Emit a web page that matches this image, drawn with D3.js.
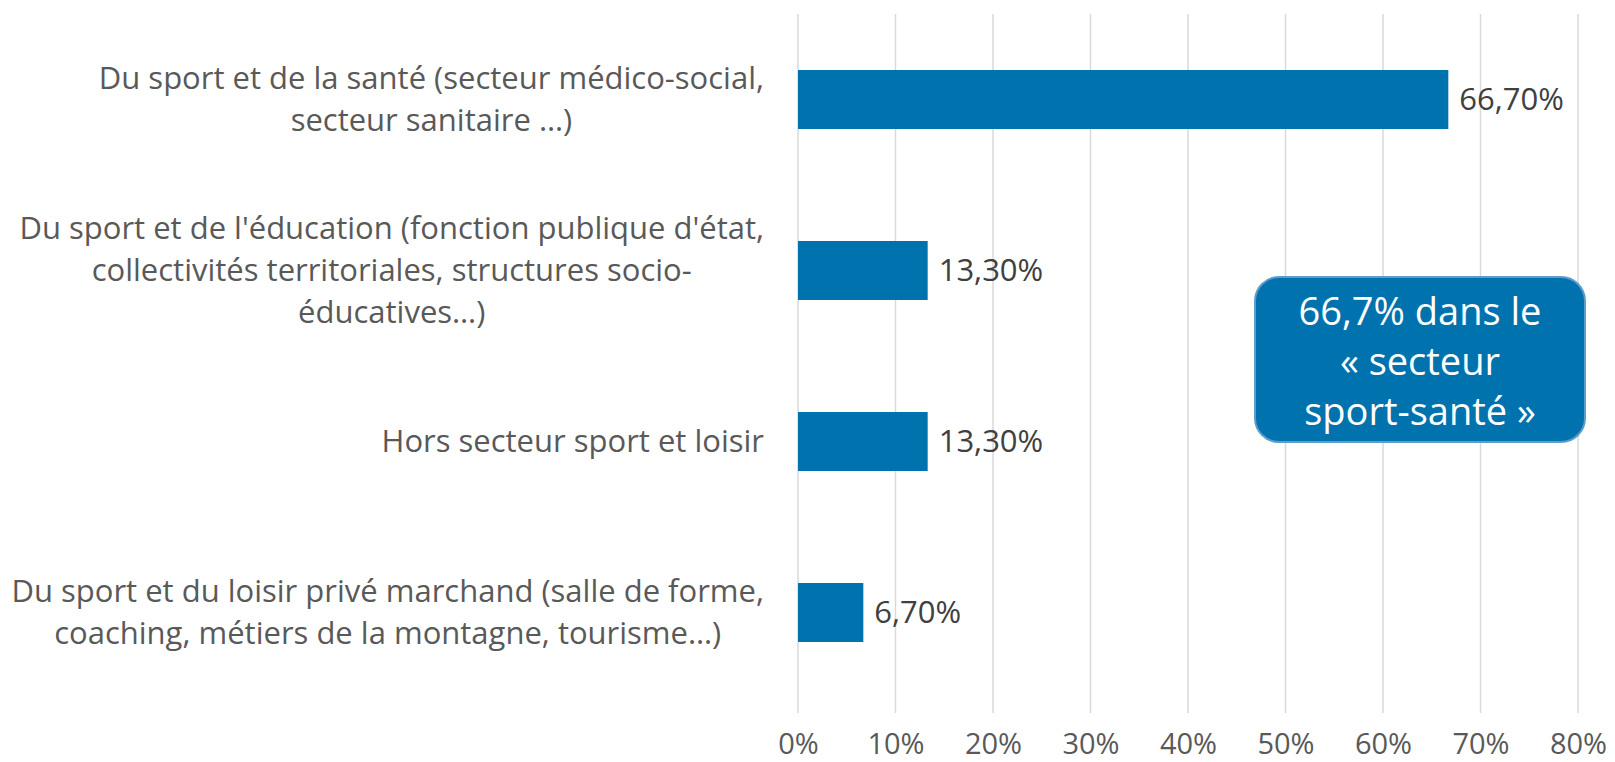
<!DOCTYPE html>
<html>
<head>
<meta charset="utf-8">
<script src="https://cdn.jsdelivr.net/npm/d3@7"></script>
<style>
  body { margin: 0; background: #fff; overflow: hidden; }
  svg { display: block; }
  svg text { font-family: "Open Sans", "Noto Sans", sans-serif; }
</style>
</head>
<body>
<div id="container"></div>
<script>
// data
const categories = [
  ["Du sport et de la santé (secteur médico-social,", "secteur sanitaire …)"],
  ["Du sport et de l'éducation (fonction publique d'état,", "collectivités territoriales, structures socio-", "éducatives…)"],
  ["Hors secteur sport et loisir"],
  ["Du sport et du loisir privé marchand (salle de forme,", "coaching, métiers de la montagne, tourisme…)"]
];
const values = [0.667, 0.133, 0.133, 0.067];
const valueLabels = ["66,70%", "13,30%", "13,30%", "6,70%"];
const ticks = [0, 0.1, 0.2, 0.3, 0.4, 0.5, 0.6, 0.7, 0.8];
const calloutLines = ["66,7% dans le", "« secteur", "sport-santé »"];

const w = 1615, h = 762;
const plotLeft = 798, plotRight = 1578, plotTop = 14, plotBottom = 698;
const blue = "#0073ae", grey = "#595959";

const xScale = d3.scaleLinear().domain([0, 0.8]).range([plotLeft, plotRight]);
const yScale = d3.scaleBand().domain(d3.range(categories.length)).range([plotTop, plotBottom]).paddingInner(0.655).paddingOuter(0.3275);

const svg = d3.select("#container").append("svg")
  .attr("width", w).attr("height", h);

// gridlines
svg.selectAll("line.grid")
  .data(ticks)
  .enter().append("line")
  .attr("class", "grid")
  .attr("x1", d => xScale(d)).attr("x2", d => xScale(d))
  .attr("y1", plotTop).attr("y2", plotBottom + 15)
  .attr("stroke", "#d9d9d9").attr("stroke-width", 1.5);

// x axis
const xAxis = d3.axisBottom(xScale).tickValues(ticks).tickSize(0).tickPadding(0)
  .tickFormat(d => Math.round(d * 100) + "%");
const gx = svg.append("g").attr("transform", "translate(0," + 744 + ")").call(xAxis);
gx.select(".domain").remove();
gx.selectAll("text").attr("fill", grey).attr("font-size", 29)
  .attr("font-family", "'Open Sans', sans-serif").attr("dy", "0.35em");

// bars
svg.selectAll("rect.bar")
  .data(values)
  .enter().append("rect")
  .attr("class", "bar")
  .attr("x", xScale(0))
  .attr("y", (d, i) => yScale(i))
  .attr("width", d => xScale(d) - xScale(0))
  .attr("height", yScale.bandwidth())
  .attr("fill", blue);

// value labels
svg.selectAll("text.val")
  .data(values)
  .enter().append("text")
  .attr("class", "val")
  .attr("x", d => xScale(d) + 11)
  .attr("y", (d, i) => yScale(i) + yScale.bandwidth() / 2)
  .attr("dy", "0.35em")
  .attr("font-size", 31)
  .attr("fill", "#404040")
  .text((d, i) => valueLabels[i]);

// category labels: centred lines, block right-aligned
const lineH = 42;
categories.forEach((lines, i) => {
  const cy = yScale(i) + yScale.bandwidth() / 2;
  const g = svg.append("g");
  const t = g.selectAll("text").data(lines).enter().append("text")
    .attr("font-size", 31).attr("fill", grey)
    .attr("text-anchor", "middle")
    .attr("y", (d, j) => cy + (j - (lines.length - 1) / 2) * lineH)
    .attr("dy", "0.35em")
    .text(d => d);
  let maxW = 0;
  t.each(function() { maxW = Math.max(maxW, this.getComputedTextLength()); });
  t.attr("x", 764 - maxW / 2);
});

// callout box
const box = svg.append("g");
box.append("rect")
  .attr("x", 1255).attr("y", 277).attr("width", 330).attr("height", 165)
  .attr("rx", 24).attr("fill", blue)
  .attr("stroke", "#5d9ccb").attr("stroke-width", 2);
box.selectAll("text").data(calloutLines).enter().append("text")
  .attr("x", 1420).attr("y", (d, i) => 312 + i * 50)
  .attr("dy", "0.35em")
  .attr("text-anchor", "middle")
  .attr("font-size", 38).attr("fill", "#fff")
  .text(d => d);
</script>
</body>
</html>
